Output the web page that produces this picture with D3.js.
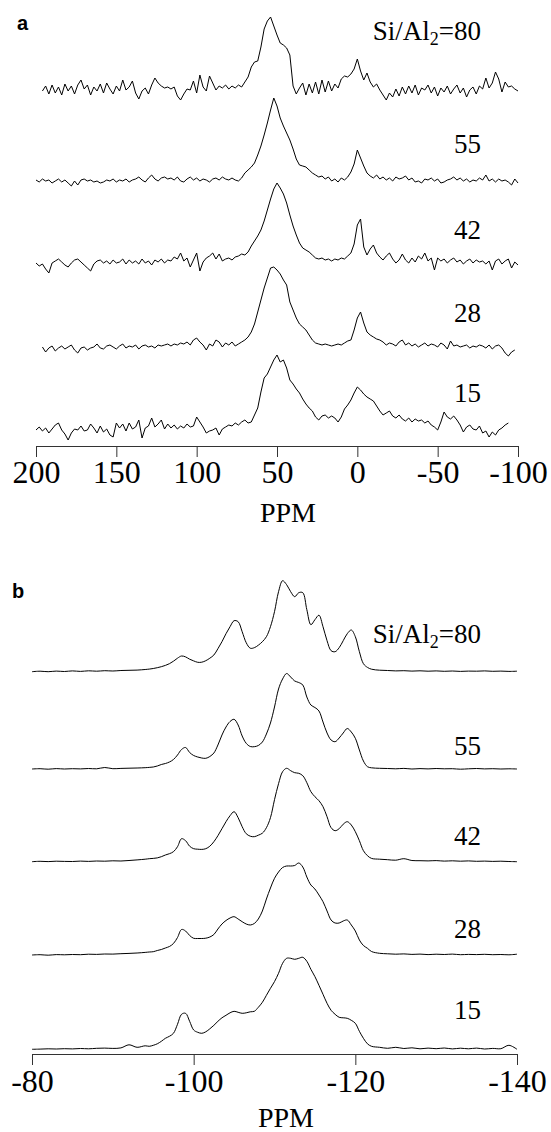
<!DOCTYPE html>
<html>
<meta charset="utf-8">
<title>27Al and 29Si MAS NMR spectra</title>
<style>

body {
  margin: 0;
  background: #fff;
}

.trace {
  fill: none;
  stroke: #000;
  stroke-width: 1;
  stroke-linejoin: round;
}

.axis path, .axis line {
  stroke: #333;
}

.series, .xlabel {
  font-family: "Liberation Serif", "Times New Roman", serif;
  fill: #000;
}

.panel-letter {
  font-family: "Liberation Sans", Arial, sans-serif;
  font-weight: bold;
  font-size: 20px;
}

</style>
<body>
<svg></svg>
<script src="https://d3js.org/d3.v7.min.js"></script>
<script>

// Si/Al2 ratios, top to bottom
var ratios = [80, 55, 42, 28, 15];

// panel a: 27Al, chemical shift grid (ppm)
var ppmA = [200,198,196,194,192,190,188,186,184,182,180,178,176,174,172,170,168,166,164,162,
  160,158,156,154,152,150,148,146,144,142,140,138,136,134,132,130,128,126,124,122,
  120,118,116,114,112,110,108,106,104,102,100,98,96,94,92,90,88,86,84,82,
  80,78,76,74,72,70,68,66,64,62,60,58,56,54,52,50,48,46,44,42,
  40,38,36,34,32,30,28,26,24,22,20,18,16,14,12,10,8,6,4,2,
  0,-2,-4,-6,-8,-10,-12,-14,-16,-18,-20,-22,-24,-26,-28,-30,-32,-34,-36,-38,
  -40,-42,-44,-46,-48,-50,-52,-54,-56,-58,-60,-62,-64,-66,-68,-70,-72,-74,-76,-78,
  -80,-82,-84,-86,-88,-90,-92,-94,-96,-98,-100];

var al80 = [null,null,0,5,-3,6,-2,4,-4,7, 0,5,-3,6,11,2,6,-4,4,0,
  7,-2,8,2,-3,5,0,11,1,4, 10,-2,-8,0,3,-3,6,13,8,5,
  3,4,2,4,-5,-9,-3,2,1,10, -2,16,4,0,15,8,1,5,3,6,
  2,5,3,6,4,9,14,24,29,30, 44,62,70,74,65,56,48,46,43,36,
  5,-3,3,8,-4,7,-2,9,-3,11, -1,10,0,7,3,12,15,14,17,22,
  32,20,11,18,9,4,7,1,-4,-9, -2,-6,2,-5,4,-3,5,-2,6,-4,
  3,1,6,-2,4,-5,3,-1,5,-3, 2,6,-2,3,-6,1,4,-3,5,2,
  13,3,8,19,12,-1,9,4,5,2, 0];

var al55 = [0,-2,1,-1,0,-3,-1,1,-2,0, -3,-6,-1,-5,0,1,-1,0,-2,-1,
  -3,-2,0,-1,1,-2,0,-1,1,-2, 0,1,3,0,-2,2,5,1,-1,2,
  3,1,2,0,3,-1,-2,1,3,0, 2,-1,1,0,-2,1,2,0,3,1,
  0,2,0,-1,2,7,10,13,17,25, 34,45,57,70,82,74,62,54,47,40,
  31,21,15,14,13,10,7,5,3,4, 1,3,-1,1,-2,2,0,3,8,16,
  30,22,14,7,4,2,5,1,3,0, 2,-1,3,1,2,4,0,2,-2,-1,
  -3,1,0,2,-1,1,-3,-2,0,1, 3,0,2,-1,1,-2,0,-1,2,0,
  5,-1,1,-2,1,-1,0,-2,-5,1, -3];

var al42 = [0,-3,-1,-6,-10,0,2,4,1,-2, -4,0,3,4,1,-2,-5,-8,-1,2,
  3,0,2,-1,3,0,1,4,-1,3, 0,2,-1,4,0,2,-2,3,1,4,
  0,3,2,6,4,10,2,5,-4,3, 10,-8,1,5,7,10,4,9,2,4,
  5,3,6,7,9,8,11,17,22,27, 33,42,53,64,74,80,75,69,60,48,
  37,28,20,15,13,11,8,5,4,5, 3,4,2,4,3,5,4,7,10,19,
  38,44,16,8,14,18,10,6,3,7, 10,4,0,3,9,3,0,5,1,7,
  4,10,2,5,-7,5,2,4,0,3, 5,1,3,-1,2,4,0,3,1,2,
  -1,2,-7,2,4,-1,2,4,-5,1, -2];

var al28 = [null,null,1,-4,0,2,-3,0,2,-1, 1,3,-2,-5,0,1,-2,0,1,4,
  0,-1,2,3,1,-1,2,4,0,2, 1,3,-1,2,3,1,2,0,3,2,
  3,4,2,4,3,5,4,6,3,8, 10,6,3,-2,4,2,8,6,1,5,
  3,6,2,4,6,8,11,16,24,36, 48,60,70,80,81,78,74,68,63,46,
  38,30,24,21,18,13,8,5,4,3, 4,3,2,3,4,3,5,7,8,18,
  30,36,25,16,13,11,9,8,6,3, 5,4,2,6,8,3,5,2,4,1,
  3,5,2,4,3,1,5,3,-1,7, 2,3,1,2,3,0,2,1,3,2,
  0,3,-1,2,3,0,-5,-8,-4,-2, null];

var al15 = [0,3,-1,2,-3,1,5,7,0,-4, -10,-3,1,0,4,-1,0,6,2,-3,
  4,-2,1,-5,-7,7,2,6,-1,7, 1,3,10,-8,2,4,12,3,6,10,
  1,6,2,5,1,4,2,6,3,4, 13,8,3,-3,-1,0,2,-5,1,3,
  5,4,7,5,8,10,7,8,15,22, 38,52,56,63,70,75,68,70,62,50,
  46,41,37,31,26,22,19,13,10,14, 15,12,14,12,8,13,21,25,30,37,
  43,40,36,33,31,29,24,19,15,17, 19,14,12,15,11,9,12,8,11,9,
  10,7,9,5,3,0,8,18,13,11, 14,10,5,-2,3,5,1,0,4,-3,
  -1,-7,-2,-5,0,2,5,7,null,null, null];

// panel b: 29Si, chemical shift grid (ppm)
var ppmB = [-80,-81,-82,-83,-84,-85,-86,-87,-88,-89,-90,-91,-92,-93,-94,
  -94.5,-95,-95.5,-96,-96.5,-97,-97.5,-98,-98.5,-99,-99.5,-100,-100.5,-101,-101.5,-102,-102.5,-103,-103.5,-104,
  -104.5,-105,-105.5,-106,-106.5,-107,-107.5,-108,-108.5,-109,-109.5,-110,-110.5,-111,-111.5,-112,-112.5,-113,-113.5,-114,
  -114.5,-115,-115.5,-116,-116.5,-117,-117.5,-118,-118.5,-119,-119.5,-120,-120.5,-121,-121.5,-122,
  -123,-124,-125,-126,-127,-128,-129,-130,-131,-132,-133,-134,-135,-136,-137,-138,-139,-140];

var si80 = [0,0.5,0,0.6,0.2,0.8,0.3,0.9,0.5,1,0.7,1.2,1.4,1.6,2.2,
  2.6,3.2,4,5,6.3,8,10.5,13.5,15.7,14.8, 12.5,10.8,9.4,9.5,11,13.5,16.7,23,30,38,
  45,51,50,40,29,23.5,24,26.5,30,35, 45,60,80,91,87,80,75,79,79,62,
  47,52,56.5,45,31,21,20,24,31,38, 41.7,35,20,8,4.3,2.5,
  1.5,1.2,0.8,1,0.6,0.9,0.5,0.8,0.4,0.7,0.3,0.6,0.5,0.8,0.4,0.6,0.3,0.5];

var si55 = [0,0.3,-0.2,0.4,0,0.3,0.1,0.5,0.2,1.5,0.3,0.6,0.8,1,1.3,
  1.6,2,3,4.5,5.5,7,9.5,14,19.5,21.5, 16.5,13.5,12,11,10.7,12.5,16,24,34,42,
  47.5,49.7,44,33,25.7,22.5,22.3,23.5,27,35, 46,62,80,90,95.5,92,88,86.5,84,72,
  64,61.5,58,47,36,29,27.3,31,36,40.5, 37,30.7,19,8,2.3,1.2,
  0.7,0.5,0.2,0.6,0,0.4,0.1,0.5,0.2,0.3,-0.2,0.2,0.5,0.1,0.3,0,0.2,0];

var si42 = [0,0.4,0.1,0.5,0.3,0.2,0.6,0.3,0.7,0.5,0.9,0.7,1.2,1.8,2.5,
  3,3.3,3.8,5,6.7,8,10,15,23,21, 15.5,13,12.5,12.3,13,15.5,20,26,33,40,
  46,50,44,35,28,25.5,25,26.5,28.5,34, 44,62,78,90,93.4,91,89,88.4,86,79,
  70,65,61,55,45,34,31,33,37.5,40, 36.7,30,21,11,6,3.3,
  2.5,2,1.5,3,1.2,1,0.8,1.1,0.6,0.9,0.5,0.8,0.4,0.6,0.3,0.5,0.2,0];

var si28 = [0,0.3,-0.2,0.4,0.2,0.5,0.3,0.8,0.6,1,0.9,1.3,1.6,2,2.6,
  3,3.3,4.5,5.5,7,8.5,11.5,17.5,25.5,24, 19.5,16.7,16.5,16.5,16.8,18,20.5,26,31,34.5,
  37,38.3,36,33.3,31,30,31.5,36,44,56, 67,76.7,83,87.5,89,89,89.5,92,88,78,
  70,66,60,53.3,44,35,32,32,34,35, 30,24,15,9.5,6.7,3.5,
  1.7,1.2,0.8,1.1,0.6,0.9,0.4,0.8,0.5,0.9,0.3,0.6,0.4,0.7,0.3,0.5,0.2,0.8];

var si15 = [0,0.2,0.5,0.3,0.6,0.4,0.8,0.5,1,1.2,0.9,1.4,4.5,2,3.5,
  3,4,5.5,8,11,13,16,25,35,36, 28,19.3,17,16,17.5,20.5,24,28,31.5,34,
  36.5,38,37,36,36.5,37.5,38,42,47,54, 61,67.7,76,86,91,91,90,91,92,88,
  80,72.7,64,55,46,39,35,32,31.5,31, 29,26,18,11,5.5,3,
  2,1,2,0.8,1.5,0.5,1.2,0.6,1.3,0.4,1.1,0.5,1.2,0.3,0.9,0.6,4,0];

var ticksA = [200, 150, 100, 50, 0, -50, -100];
var ticksB = [-80, -100, -120, -140];

var svg = d3.select("svg")
    .attr("width", 551)
    .attr("height", 1132);

// intensity in arbitrary units, drawn upward from each trace's baseline
var yInt = d3.scaleLinear().domain([0, 100]).range([0, -100]);

function drawPanel(p) {
  var x = d3.scaleLinear().domain(p.domain).range(p.xRange);

  var line = d3.line()
      .defined(function(d) { return d[1] != null; })
      .x(function(d) { return x(d[0]); })
      .y(function(d) { return yInt(d[1]); })
      .curve(p.curve);

  var g = svg.append("g");

  p.series.forEach(function(vals, i) {
    var pts = p.ppm.map(function(v, j) { return [v, vals[j]]; });
    g.append("path")
        .attr("class", "trace")
        .attr("transform", "translate(0," + p.baselines[i] + ")")
        .attr("d", line(pts));
  });

  // Si/Al2 labels
  g.selectAll("text.series")
      .data(ratios)
      .join("text")
        .attr("class", "series")
        .attr("x", 481)
        .attr("y", function(d, i) { return p.labelY[i]; })
        .attr("text-anchor", "end")
        .style("font-size", "27px")
        .each(function(d, i) {
          var t = d3.select(this);
          if (i === 0) {
            t.append("tspan").text("Si/Al");
            t.append("tspan").attr("dy", 5).style("font-size", "18px").text("2");
            t.append("tspan").attr("dy", -5).text("=" + d);
          } else {
            t.text(d);
          }
        });

  g.append("g")
      .attr("class", "axis")
      .attr("transform", "translate(0," + p.axisY + ")")
      .call(d3.axisBottom(x)
          .tickValues(p.ticks)
          .tickSize(11)
          .tickSizeOuter(0)
          .tickPadding(p.pad)
          .tickFormat(function(d) { return String(d); }))
      .attr("font-family", "'Liberation Serif', 'Times New Roman', serif")
      .attr("font-size", 32)
    .selectAll("text")
      .attr("fill", "#000");

  g.append("text")
      .attr("class", "xlabel")
      .attr("x", p.xlabelX)
      .attr("y", p.xlabelY)
      .attr("text-anchor", "middle")
      .style("font-size", "28px")
      .text("PPM");

  g.append("text")
      .attr("class", "panel-letter")
      .attr("x", p.letterPos[0])
      .attr("y", p.letterPos[1])
      .text(p.letter);
}

drawPanel({
  letter: "a",
  letterPos: [17, 30],
  ppm: ppmA,
  series: [al80, al55, al42, al28, al15],
  domain: [200, -100],
  xRange: [36, 518],
  ticks: ticksA,
  pad: 3,
  axisY: 446,
  baselines: [91, 180, 263, 348, 430],
  labelY: [40, 153, 239, 322, 402],
  xlabelX: 288,
  xlabelY: 522,
  curve: d3.curveLinear
});

drawPanel({
  letter: "b",
  letterPos: [12, 598],
  ppm: ppmB,
  series: [si80, si55, si42, si28, si15],
  domain: [-80, -140],
  xRange: [32, 517],
  ticks: ticksB,
  pad: 4,
  axisY: 1054,
  baselines: [671.7, 769, 861.7, 955, 1049.3],
  labelY: [643, 755, 845, 938, 1019],
  xlabelX: 286,
  xlabelY: 1127,
  curve: d3.curveCatmullRom.alpha(0.5)
});

</script>
</body>
</html>
